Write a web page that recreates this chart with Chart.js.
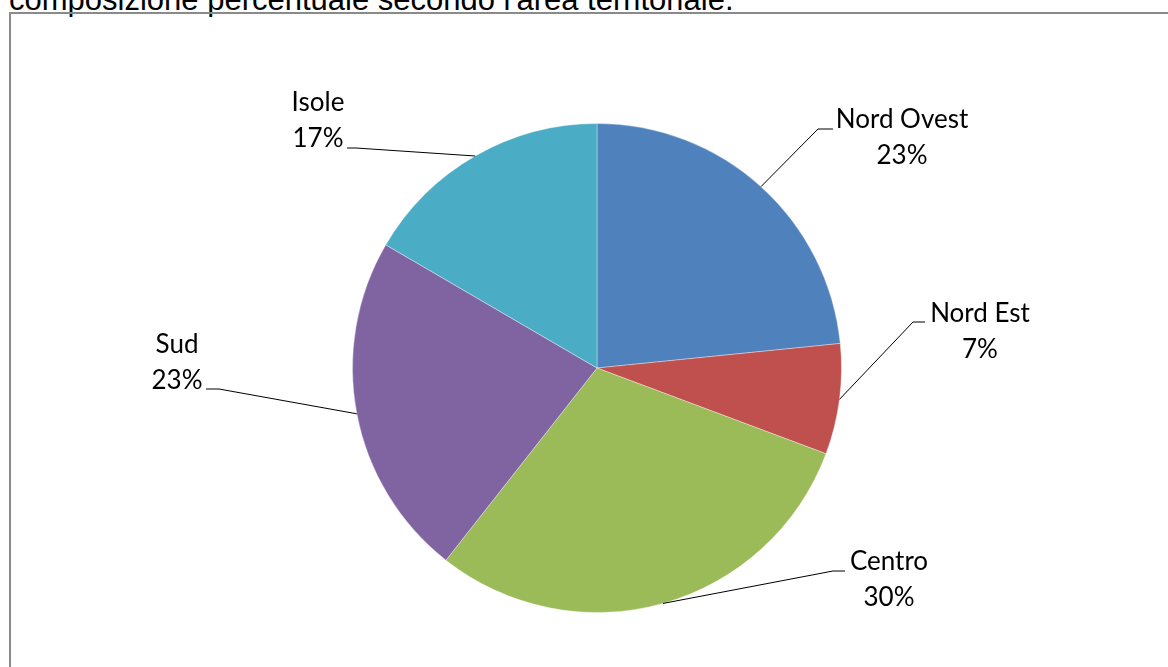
<!DOCTYPE html>
<html>
<head>
<meta charset="utf-8">
<script src="https://cdn.jsdelivr.net/npm/chart.js@4/dist/chart.umd.min.js"></script>
<style>
  html, body { margin: 0; padding: 0; background: #fff; width: 1168px; height: 667px; overflow: hidden; }
  #title { position: absolute; left: 9px; top: -16px; font: 31px "Liberation Sans", Arial, sans-serif; line-height: 31px; color: #000; white-space: nowrap; }
  #frame { position: absolute; left: 9px; top: 12px; width: 1200px; height: 700px; border-left: 2px solid #8a8a8a; border-top: 2px solid #8a8a8a; box-sizing: border-box; }
  #wrap { position: absolute; left: 0; top: 0; width: 1168px; height: 667px; }
</style>
</head>
<body>
<div id="title">composizione percentuale secondo l'area territoriale.</div>
<div id="frame"></div>
<div id="wrap"><canvas id="c" width="1168" height="667"></canvas></div>
<script>
// ---- data ----
const categories = ["Nord Ovest", "Nord Est", "Centro", "Sud", "Isole"];
const shares = [23.4, 7.3, 29.9, 22.8, 16.6];
const percentLabels = ["23%", "7%", "30%", "23%", "17%"];
const sliceColors = ["#4F81BD", "#C0504D", "#9BBB59", "#8064A2", "#4BACC6"];

// ---- label layout (text centre x, first baseline y, elbow point, leader end) ----
const labelLayout = [
  { x: 902, y: 128, elbow: [818, 129], end: [833, 129] },
  { x: 980, y: 322, elbow: [913, 322], end: [925, 322] },
  { x: 889, y: 570, elbow: [833, 571], end: [845, 571] },
  { x: 177, y: 353, elbow: [219, 389], end: [206, 389] },
  { x: 318, y: 111, elbow: [356, 148], end: [347, 148] }
];

const leaderPlugin = {
  id: 'leaders',
  afterDatasetsDraw(chart) {
    const ctx = chart.ctx;
    const meta = chart.getDatasetMeta(0);
    ctx.save();
    meta.data.forEach((arc, i) => {
      const p = arc.getProps(['x', 'y', 'startAngle', 'endAngle', 'outerRadius'], true);
      const mid = (p.startAngle + p.endAngle) / 2;
      const sx = p.x + Math.cos(mid) * p.outerRadius;
      const sy = p.y + Math.sin(mid) * p.outerRadius;
      const L = labelLayout[i];
      ctx.strokeStyle = '#000';
      ctx.lineWidth = 1;
      ctx.beginPath();
      ctx.moveTo(sx, sy);
      ctx.lineTo(L.elbow[0], L.elbow[1]);
      ctx.lineTo(L.end[0], L.end[1]);
      ctx.stroke();
      ctx.fillStyle = '#000';
      ctx.font = '26px Lato, "Open Sans", sans-serif';
      ctx.textAlign = 'center';
      ctx.textBaseline = 'alphabetic';
      ctx.fillText(categories[i], L.x, L.y);
      ctx.fillText(percentLabels[i], L.x, L.y + 36);
    });
    ctx.restore();
  }
};

new Chart(document.getElementById('c'), {
  type: 'pie',
  data: {
    labels: categories,
    datasets: [{
      data: shares,
      backgroundColor: sliceColors,
      borderColor: 'rgba(255,255,255,0.35)',
      borderWidth: 1
    }]
  },
  options: {
    responsive: false,
    animation: false,
    layout: { padding: { top: 123, bottom: 54, left: 26, right: 0 } },
    plugins: { legend: { display: false }, tooltip: { enabled: false }, title: { display: false } }
  },
  plugins: [leaderPlugin]
});
</script>
</body>
</html>
